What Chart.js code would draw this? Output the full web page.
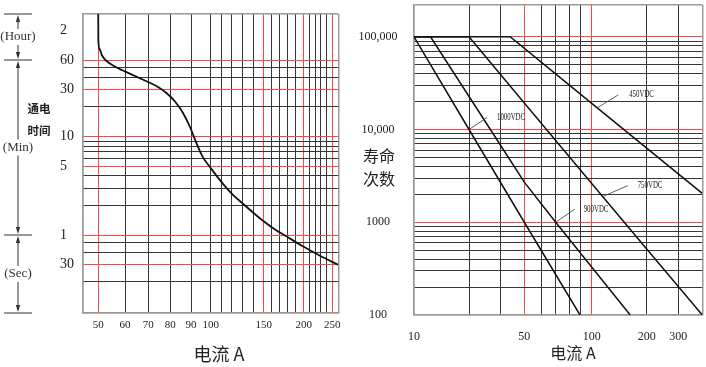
<!DOCTYPE html>
<html>
<head>
<meta charset="utf-8">
<title>通电时间 / 寿命次数</title>
<script src="https://cdn.jsdelivr.net/npm/chart.js@4"></script>
<style>
  body { margin: 0; background: #fff; }
  #wrap { position: relative; width: 706px; height: 367px; overflow: hidden; background: #fff; }
  canvas { position: absolute; top: 0; }
  #left { left: 0; }
  #right { left: 350px; }
  .lbl { position: absolute; transform: translate(-50%, -50%); white-space: nowrap; color: #222; line-height: 1; }
  .cjk { font-family: "Noto Sans CJK SC", sans-serif; }
</style>
</head>
<body>
<div id="wrap">
  <canvas id="left" width="350" height="367"></canvas>
  <canvas id="right" width="356" height="367"></canvas>
  <div class="lbl cjk" style="left:39px;top:109px;font-size:11.5px;font-weight:bold">通电</div>
  <div class="lbl cjk" style="left:39px;top:131px;font-size:11.5px;font-weight:bold">时间</div>
  <div class="lbl cjk" style="left:219px;top:353px;font-size:18px">电流 A</div>
  <div class="lbl cjk" style="left:379px;top:155px;font-size:16px">寿命</div>
  <div class="lbl cjk" style="left:379px;top:178px;font-size:16px">次数</div>
  <div class="lbl cjk" style="left:573px;top:352px;font-size:16px">电流 A</div>
</div>
<script>
// ---- 左图：通电时间 (秒) vs 电流 (A) ----
const fuseAmps = [49.98, 50.02, 50.45, 51.39, 52.88, 55.51, 59.25, 64.29, 69.44, 74.41, 78.5, 82.27, 86.14, 89.52, 92.54, 95.58, 100.94, 111.6, 121.0, 130.75, 139.9, 149.6, 164.1, 178.75, 199.5, 228.5, 260];
const fuseSeconds = [10563, 5746, 4657, 4000, 3558, 3165, 2816, 2475, 2177, 1914, 1646, 1364, 1042, 751, 528, 385, 278.6, 198.5, 153.3, 124.1, 101.7, 83.4, 68.4, 57.9, 45.8, 36.9, 29.9];

const timeGrid = [20, 30, 40, 50, 60, 120, 180, 240, 300, 360, 420, 480, 540, 600, 1200, 1800, 2400, 3000, 3600, 7200];
const timeRed = [30, 60, 300, 600, 1800, 3600];
const timeHidden = [7200];
const timeLabelAt = [30, 60, 300, 600, 1800, 3600, 7200];
const timeLabelText = ['30', '1', '5', '10', '30', '60', '2'];

const ampGrid = [50, 60, 70, 80, 90, 100, 110, 120, 130, 140, 150, 160, 170, 180, 190, 200, 210, 220, 230, 240, 250];
const ampRed = [50, 150, 200, 250];
const ampLabels = [50, 60, 70, 80, 90, 100, 150, 200, 250];

// ---- 右图：寿命次数 vs 电流 (A) ----
const life1000Amps = [10, 20, 50, 90];
const life1000Cycles = [100000, 10000, 1000, 100];
const life900Amps = [10, 13, 30, 50, 70, 170];
const life900Cycles = [100000, 100000, 6720, 2710, 1000, 100];
const life750Amps = [10, 20, 50, 100, 200, 400];
const life750Cycles = [100000, 100000, 19300, 2620, 514, 100];
const life450Amps = [10, 38, 100, 200, 300, 400];
const life450Cycles = [100000, 100000, 19100, 6300, 3330, 2050];

const lifeAmpGrid = [10, 20, 30, 50, 60, 70, 80, 90, 100, 200, 300];
const lifeAmpRed = [50, 100];
const lifeAmpLabels = [10, 50, 100, 200, 300];

const cycleGrid = [100, 200, 300, 400, 500, 600, 700, 800, 900,
  1000, 2000, 3000, 4000, 5000, 6000, 7000, 8000, 9000,
  10000, 20000, 30000, 40000, 50000, 60000, 70000, 80000, 90000, 100000];
const cycleRed = [1000, 10000, 100000];
const cycleLabelAt = [100, 1000, 10000, 100000];
const cycleLabelText = ['100', '1000', '10,000', '100,000'];

const RED = 'rgb(255,70,70)';
const INK = '#363636';
const EDGE = '#9a9a9a';
const SERIF = '"Liberation Serif", serif';

// 原图横轴不是标准刻度，按刻度位置分段线性标定
class KnotScale extends Chart.LinearScale {
  static id = 'knot';
  static defaults = {};
  _pos(value) {
    const k = this.options.knots;
    let i = 1;
    while (i < k.length - 1 && value > k[i][0]) i++;
    const [v0, p0] = k[i - 1], [v1, p1] = k[i];
    return p0 + (value - v0) / (v1 - v0) * (p1 - p0);
  }
  getPixelForValue(value) {
    const k = this.options.knots;
    const span = k[k.length - 1][1] - k[0][1];
    return this.getPixelForDecimal((this._pos(value) - k[0][1]) / span);
  }
  getValueForPixel(pixel) {
    const k = this.options.knots;
    const p = k[0][1] + this.getDecimalForPixel(pixel) * (k[k.length - 1][1] - k[0][1]);
    let i = 1;
    while (i < k.length - 1 && p > k[i][1]) i++;
    const [v0, p0] = k[i - 1], [v1, p1] = k[i];
    return v0 + (p - p0) / (p1 - p0) * (v1 - v0);
  }
}
Chart.register(KnotScale);

function setTicks(values) {
  return scale => {
    const inner = values.filter(v => v > scale.min && v < scale.max);
    scale.ticks = [scale.min, ...inner, scale.max].map(v => ({ value: v }));
  };
}

// 固定坐标轴占位，不让标签改变绘图区
function fixSize(prop, size) {
  return s => {
    s[prop] = size;
    s.paddingTop = 0;
    s.paddingBottom = 0;
    s.paddingLeft = 0;
    s.paddingRight = 0;
  };
}

function lineColor(red, hidden = []) {
  return c => {
    const v = c.tick ? c.tick.value : null;
    if (v === c.scale.min || v === c.scale.max) return EDGE;
    if (hidden.includes(v)) return 'rgba(0,0,0,0)';
    return red.includes(v) ? RED : INK;
  };
}

function lineWidth(c) {
  const v = c.tick ? c.tick.value : null;
  return (v === c.scale.min || v === c.scale.max) ? 1.5 : 1;
}

function pairs(xs, ys) {
  return xs.map((x, i) => ({ x: x, y: ys[i] }));
}

function arrow(ctx, x, tip, dir) {
  ctx.beginPath();
  ctx.moveTo(x, tip);
  ctx.lineTo(x - 2.2, tip + dir * 7);
  ctx.lineTo(x + 2.2, tip + dir * 7);
  ctx.closePath();
  ctx.fill();
}

// 左侧 Hour / Min / Sec 标尺
const timeBracket = {
  id: 'timeBracket',
  afterDraw(chart) {
    const { ctx, chartArea: area, scales: { y } } = chart;
    const marks = [area.top, y.getPixelForValue(3600), y.getPixelForValue(60), area.bottom];
    const names = ['(Hour)', '(Min)', '(Sec)'];
    const x = 18;
    ctx.save();
    ctx.strokeStyle = '#333';
    ctx.fillStyle = '#333';
    ctx.lineWidth = 1;
    ctx.font = '13px ' + SERIF;
    ctx.textAlign = 'center';
    ctx.textBaseline = 'middle';
    marks.forEach(m => {
      ctx.beginPath();
      ctx.moveTo(4, m);
      ctx.lineTo(32, m);
      ctx.stroke();
    });
    names.forEach((name, i) => {
      const a = marks[i], b = marks[i + 1], mid = (a + b) / 2;
      ctx.fillText(name, x, mid);
      ctx.beginPath();
      ctx.moveTo(x, a + 4);
      ctx.lineTo(x, mid - 8);
      ctx.moveTo(x, mid + 8);
      ctx.lineTo(x, b - 4);
      ctx.stroke();
      arrow(ctx, x, a + 1, 1);
      arrow(ctx, x, b - 1, -1);
    });
    ctx.restore();
  }
};

// 电压标注（引线 + 文字）
const voltLabels = {
  id: 'voltLabels',
  afterDatasetsDraw(chart, args, opts) {
    const { ctx, scales: { x, y } } = chart;
    ctx.save();
    ctx.strokeStyle = '#333';
    ctx.fillStyle = '#222';
    ctx.lineWidth = 0.8;
    ctx.font = '9.5px ' + SERIF;
    ctx.textBaseline = 'middle';
    opts.items.forEach(it => {
      const px = x.getPixelForValue(it.at[0]);
      const py = y.getPixelForValue(it.at[1]);
      ctx.beginPath();
      ctx.moveTo(px, py);
      ctx.lineTo(px + it.dx, py + it.dy);
      ctx.stroke();
      ctx.save();
      ctx.translate(px + it.dx + it.gap, py + it.dy);
      ctx.scale(0.72, 1);
      ctx.fillText(it.text, 0, 0);
      ctx.restore();
    });
    ctx.restore();
  }
};

new Chart(document.getElementById('left'), {
  type: 'line',
  data: {
    datasets: [{
      data: pairs(fuseAmps, fuseSeconds),
      borderColor: '#111',
      borderWidth: 1.8,
      pointRadius: 0,
      cubicInterpolationMode: 'monotone',
      fill: false
    }]
  },
  options: {
    responsive: false,
    animation: false,
    devicePixelRatio: 1,
    layout: { padding: { left: 60, top: 14, right: 11.7, bottom: 0 } },
    plugins: { legend: { display: false }, tooltip: { enabled: false } },
    scales: {
      x: {
        type: 'knot',
        min: 44,
        max: 260,
        bounds: 'data',
        knots: [[44, 0], [50, 15.6], [60, 42.3], [70, 65.6], [80, 87.6], [90, 108.3], [100, 128], [150, 181], [200, 221], [250, 249.6], [260, 255.6]],
        afterBuildTicks: setTicks(ampGrid),
        afterFit: fixSize('height', 54),
        grid: { color: lineColor(ampRed), lineWidth: lineWidth, drawTicks: false },
        border: { color: EDGE, width: 1.5 },
        ticks: {
          autoSkip: false,
          maxRotation: 0,
          minRotation: 0,
          padding: 5.4,
          color: '#222',
          font: { family: SERIF, size: 11 },
          callback: v => ampLabels.includes(v) ? String(v) : ''
        }
      },
      y: {
        type: 'logarithmic',
        min: 9.68,
        max: 10563,
        bounds: 'data',
        afterBuildTicks: setTicks(timeGrid),
        afterFit: fixSize('width', 22.7),
        grid: { color: lineColor(timeRed, timeHidden), lineWidth: lineWidth, drawTicks: false },
        border: { color: EDGE, width: 1.5 },
        ticks: {
          autoSkip: false,
          crossAlign: 'far',
          color: '#222',
          font: { family: SERIF, size: 14 },
          callback: v => {
            const i = timeLabelAt.indexOf(v);
            return i >= 0 ? timeLabelText[i] : '';
          }
        }
      }
    }
  },
  plugins: [timeBracket]
});

const lifeLine = (xs, ys) => ({
  data: pairs(xs, ys),
  borderColor: '#111',
  borderWidth: 1.5,
  pointRadius: 0,
  tension: 0,
  fill: false
});

new Chart(document.getElementById('right'), {
  type: 'line',
  data: {
    datasets: [
      lifeLine(life1000Amps, life1000Cycles),
      lifeLine(life900Amps, life900Cycles),
      lifeLine(life750Amps, life750Cycles),
      lifeLine(life450Amps, life450Cycles)
    ]
  },
  options: {
    responsive: false,
    animation: false,
    devicePixelRatio: 1,
    layout: { padding: { left: 0, top: 5, right: 3.7, bottom: 0 } },
    plugins: {
      legend: { display: false },
      tooltip: { enabled: false },
      voltLabels: {
        items: [
          { text: '1000VDC', at: [20, 10000], dx: 18, dy: -12, gap: 10 },
          { text: '900VDC', at: [70, 1000], dx: 19, dy: -13, gap: 9 },
          { text: '750VDC', at: [120, 1890], dx: 25, dy: -11, gap: 10 },
          { text: '450VDC', at: [110, 17100], dx: 21, dy: -13, gap: 11 }
        ]
      }
    },
    scales: {
      x: {
        type: 'knot',
        min: 10,
        max: 400,
        bounds: 'data',
        knots: [[10, 0], [20, 55], [30, 86.7], [50, 110.3], [60, 127.7], [70, 141.7], [80, 155], [90, 166], [100, 177.7], [200, 232.7], [300, 264.3], [400, 288.3]],
        afterBuildTicks: setTicks(lifeAmpGrid),
        afterFit: fixSize('height', 52),
        grid: { color: lineColor(lifeAmpRed), lineWidth: lineWidth, drawTicks: false },
        border: { color: EDGE, width: 1.5 },
        ticks: {
          autoSkip: false,
          maxRotation: 0,
          minRotation: 0,
          padding: 14.5,
          color: '#222',
          font: { family: SERIF, size: 12 },
          callback: v => lifeAmpLabels.includes(v) ? String(v) : ''
        }
      },
      y: {
        type: 'logarithmic',
        min: 100,
        max: 220000,
        bounds: 'data',
        afterBuildTicks: setTicks(cycleGrid),
        afterFit: fixSize('width', 64),
        grid: { color: lineColor(cycleRed), lineWidth: lineWidth, drawTicks: false },
        border: { color: EDGE, width: 1.5 },
        ticks: {
          autoSkip: false,
          crossAlign: 'center',
          padding: 16.5,
          color: '#222',
          font: { family: SERIF, size: 12 },
          callback: v => {
            const i = cycleLabelAt.indexOf(v);
            return i >= 0 ? cycleLabelText[i] : '';
          }
        }
      }
    }
  },
  plugins: [voltLabels]
});
</script>
</body>
</html>
